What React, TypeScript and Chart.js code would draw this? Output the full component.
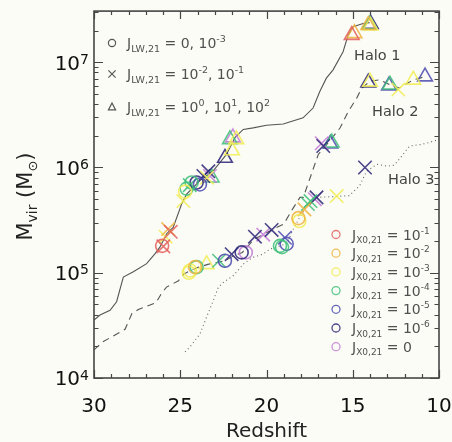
import React, { useEffect, useRef } from 'react';
import { Chart, registerables } from 'chart.js';

Chart.register(...registerables);

// ---------- data ----------
const halo1Z = [30, 29.65, 29.07, 28.69, 28.3, 27.72, 26.95, 26.47, 26.18, 25.79, 25.41, 24.92, 24.63, 23.86, 23.09, 22.32, 21.83, 21.35, 20.77, 20.0, 19.03, 17.88, 17.3, 16.91, 16.53, 16.14, 15.56, 15.27, 14.98, 14.4, 14.02];
const halo1M = [3.56e4, 3.96e4, 4.4e4, 5.3e4, 9.1e4, 1.02e5, 1.22e5, 1.51e5, 1.75e5, 2.34e5, 2.7e5, 4.5e5, 5.6e5, 7.5e5, 9.3e5, 1.33e6, 1.92e6, 2.3e6, 2.38e6, 2.52e6, 2.59e6, 2.96e6, 3.67e6, 5.28e6, 7.06e6, 8.46e6, 1.26e7, 1.81e7, 2.17e7, 2.33e7, 2.38e7];

const halo2Z = [30, 29.5, 28.9, 28.2, 27.8, 27.4, 26.4, 26.1, 25.8, 25.1, 24.8, 24.4, 24.0, 23.4, 22.4, 21.9, 21.4, 20.7, 20.2, 19.7, 19.0, 18.5, 18.06, 17.87, 17.48, 17.0, 16.51, 15.74, 15.26, 14.77, 14.48, 14.0, 13.45, 12.84, 12.3, 11.9, 11.5, 10.8];
const halo2M = [1.85e4, 2.2e4, 2.5e4, 2.9e4, 4.1e4, 4.5e4, 5.2e4, 6.3e4, 7.3e4, 8.4e4, 9.7e4, 1.05e5, 1.12e5, 1.2e5, 1.3e5, 1.45e5, 1.56e5, 2.1e5, 2.3e5, 2.55e5, 2.9e5, 4.0e5, 5.2e5, 5.2e5, 7.9e5, 1.33e6, 1.65e6, 2.37e6, 3.4e6, 4.56e6, 5.66e6, 6.6e6, 6.8e6, 6.1e6, 5.7e6, 6.2e6, 6.8e6, 7.3e6];

const halo3Z = [24.72, 24.43, 23.85, 23.47, 23.08, 22.79, 22.5, 21.92, 21.34, 20.8, 20.2, 19.8, 19.2, 18.8, 18.5, 18.1, 17.7, 17.1, 16.0, 15.2, 14.6, 14.2, 13.6, 13.0, 12.6, 12.3, 11.7, 11.1, 10.7, 10.0];
const halo3M = [1.77e4, 1.98e4, 2.63e4, 3.8e4, 5.46e4, 7.3e4, 8.1e4, 9.4e4, 1.21e5, 1.4e5, 1.5e5, 1.68e5, 1.8e5, 1.9e5, 2.5e5, 3.3e5, 4.2e5, 5.2e5, 5.3e5, 5.4e5, 6.7e5, 9.2e5, 1.07e6, 1.03e6, 1.05e6, 1.2e6, 1.6e6, 1.65e6, 1.7e6, 1.85e6];

// markers: redshift, mass, shape (o: J_LW=0,1e-3; x: 1e-2,1e-1; ^: 1e0..1e2), J_X index
const markerZ = [
  26.05, 25.98, 25.55, 25.7, 25.85, 24.82, 24.72, 24.63, 24.34, 24.45, 24.05, 23.86, 23.66, 23.37, 23.28, 23.45, 23.18, 22.41, 22.0, 22.12, 21.95, 21.75,
  15.06, 14.9, 14.1, 13.95, 14.02, 13.98,
  24.5, 24.43, 24.14, 24.05, 23.47, 22.75, 22.41, 22.02, 21.44, 21.2, 20.67, 20.19, 19.7,
  16.71, 16.8, 16.22, 16.3, 14.1, 14.0, 12.84, 12.9, 12.36, 11.49, 10.81,
  19.22, 19.1, 18.83, 18.93, 18.15, 18.1, 17.8, 17.6, 17.45, 17.1, 17.2, 15.93, 14.29,
];
const markerM = [
  1.8e5, 1.78e5, 2.45e5, 2.6e5, 2.2e5, 4.8e5, 5.9e5, 6.3e5, 7.2e5, 6.8e5, 7.2e5, 6.9e5, 8.3e5, 9.2e5, 8.3e5, 8.0e5, 8.0e5, 1.23e6, 1.45e6, 1.85e6, 1.92e6, 1.85e6,
  1.81e7, 1.88e7, 2.25e7, 2.3e7, 2.28e7, 2.22e7,
  1.0e5, 1.05e5, 1.13e5, 1.13e5, 1.2e5, 1.3e5, 1.3e5, 1.5e5, 1.56e5, 1.56e5, 2.2e5, 2.3e5, 2.55e5,
  1.6e6, 1.7e6, 1.72e6, 1.68e6, 6.4e6, 6.5e6, 6.1e6, 6.0e6, 5.5e6, 6.8e6, 7.3e6,
  1.8e5, 1.75e5, 1.88e5, 2.15e5, 3.3e5, 3.1e5, 4.0e5, 4.5e5, 4.8e5, 5.2e5, 5.0e5, 5.35e5, 1.0e6,
];
const markerShape = [
  'o', 'x', 'x', 'x', 'x', 'x', 'o', 'o', 'o', 'x', 'o', 'o', 'x', 'x', 'x', 'x', '^', '^', '^', '^', '^', '^',
  '^', '^', '^', '^', '^', '^',
  'o', 'o', 'o', 'o', '^', 'x', 'o', 'x', 'o', 'o', 'x', 'x', 'x',
  'x', 'x', '^', '^', '^', '^', '^', '^', 'x', '^', '^',
  'o', 'o', 'o', 'x', 'o', 'o', 'x', 'x', 'x', 'x', 'x', 'x', 'x',
];
const markerJX = [
  0, 0, 0, 1, 2, 2, 2, 3, 3, 3, 5, 4, 5, 5, 6, 2, 3, 5, 2, 3, 6, 2,
  0, 1, 1, 5, 3, 2,
  2, 2, 1, 3, 2, 3, 4, 5, 5, 6, 5, 6, 5,
  5, 6, 3, 4, 5, 2, 3, 4, 2, 2, 4,
  3, 3, 4, 4, 1, 2, 1, 3, 3, 5, 6, 2, 5,
];

const jxExponents = ['-1', '-2', '-3', '-4', '-5', '-6', ''];
const jxColors = ['#e3605c', '#efb340', '#f1ec55', '#3fbf7a', '#4d4cb2', '#2d2778', '#c27cd6'];
const lwLegend = [
  { shape: 'o', text: ' = 0, 10', sup: '-3', tail: '' },
  { shape: 'x', text: ' = 10', sup: '-2', tail: ', 10', sup2: '-1' },
  { shape: '^', text: ' = 10', sup: '0', tail: ', 10', sup2: '1', tail2: ', 10', sup3: '2' },
];
const haloLabels = ['Halo 1', 'Halo 2', 'Halo 3'];
const xTickValues = [30, 25, 20, 15, 10];
const yTickExponents = [4, 5, 6, 7];

// ---------- drawing helpers ----------
const FF = '"DejaVu Sans", sans-serif';
type Seg = { t: string; s: number; dy?: number };

function richWidth(ctx: CanvasRenderingContext2D, segs: Seg[]) {
  let w = 0;
  for (const g of segs) {
    ctx.font = `${g.s}px ${FF}`;
    w += ctx.measureText(g.t).width;
  }
  return w;
}
function drawRich(ctx: CanvasRenderingContext2D, segs: Seg[], x: number, y: number, align: 'left' | 'right' | 'center') {
  const w = richWidth(ctx, segs);
  let cx = align === 'left' ? x : align === 'right' ? x - w : x - w / 2;
  ctx.textAlign = 'left';
  ctx.textBaseline = 'alphabetic';
  for (const g of segs) {
    ctx.font = `${g.s}px ${FF}`;
    ctx.fillText(g.t, cx, y + (g.dy || 0));
    cx += ctx.measureText(g.t).width;
  }
}
function drawSymbol(ctx: CanvasRenderingContext2D, shape: string, x: number, y: number, r: number) {
  ctx.beginPath();
  if (shape === 'o') {
    ctx.arc(x, y, r, 0, Math.PI * 2);
  } else if (shape === 'x') {
    ctx.moveTo(x - r, y - r); ctx.lineTo(x + r, y + r);
    ctx.moveTo(x - r, y + r); ctx.lineTo(x + r, y - r);
  } else {
    ctx.moveTo(x, y - r * 1.1); ctx.lineTo(x + r, y + r * 0.8); ctx.lineTo(x - r, y + r * 0.8); ctx.closePath();
  }
  ctx.stroke();
}

const bgPlugin = {
  id: 'bg',
  beforeDraw(chart: any) {
    const { ctx, width, height } = chart;
    ctx.save();
    ctx.fillStyle = '#fcfcf6';
    ctx.fillRect(0, 0, width, height);
    ctx.restore();
  },
};

const framePlugin = {
  id: 'frame',
  afterDraw(chart: any) {
    const { ctx, chartArea: a } = chart;
    const xs = chart.scales.x;
    const ys = chart.scales.y;
    ctx.save();
    ctx.strokeStyle = '#454545';
    ctx.lineWidth = 1.2;
    ctx.beginPath();
    for (let v = 10; v <= 30; v++) {
      const px = Math.round(xs.getPixelForValue(v)) + 0.5;
      const len = v % 5 === 0 ? 8 : 4;
      ctx.moveTo(px, a.bottom); ctx.lineTo(px, a.bottom - len);
      ctx.moveTo(px, a.top); ctx.lineTo(px, a.top + len);
    }
    for (let e = 4; e <= 7; e++) {
      for (let m = 1; m <= 9; m++) {
        const v = m * Math.pow(10, e);
        if (v > ys.max) break;
        const py = Math.round(ys.getPixelForValue(v)) + 0.5;
        const len = m === 1 ? 9 : 4.5;
        ctx.moveTo(a.left, py); ctx.lineTo(a.left + len, py);
        ctx.moveTo(a.right, py); ctx.lineTo(a.right - len, py);
      }
    }
    ctx.stroke();
    ctx.lineWidth = 1.6;
    ctx.strokeRect(a.left, a.top, a.right - a.left, a.bottom - a.top);

    // x tick labels
    ctx.fillStyle = '#111';
    for (const v of xTickValues) {
      drawRich(ctx, [{ t: String(v), s: 20 }], xs.getPixelForValue(v), 412, 'center');
    }
    // x title
    ctx.fillStyle = '#222';
    drawRich(ctx, [{ t: 'Redshift', s: 20 }], (a.left + a.right) / 2, 437, 'center');
    // y tick labels
    ctx.fillStyle = '#111';
    for (const e of yTickExponents) {
      const py = ys.getPixelForValue(Math.pow(10, e));
      drawRich(ctx, [{ t: '10', s: 20 }, { t: String(e), s: 14, dy: -5.6 }], 89, py + 7.3, 'right');
    }
    // y title
    ctx.save();
    ctx.translate(24, (a.top + a.bottom) / 2 + 2);
    ctx.rotate(-Math.PI / 2);
    ctx.fillStyle = '#222';
    drawRich(ctx, [
      { t: 'M', s: 21 }, { t: 'vir', s: 14, dy: 5 }, { t: ' (M', s: 21 }, { t: '⊙', s: 13, dy: 5 }, { t: ')', s: 21 },
    ], 0, 7.5, 'center');
    ctx.restore();

    // legend 1 (J_LW)
    const lwRows = [43, 74, 107];
    lwLegend.forEach((row: any, i: number) => {
      const cy = lwRows[i];
      ctx.strokeStyle = '#555';
      ctx.lineWidth = 1.2;
      drawSymbol(ctx, row.shape, 112, cy, 3.6);
      ctx.fillStyle = '#505050';
      const segs: Seg[] = [
        { t: 'J', s: 14 }, { t: 'LW,21', s: 9.5, dy: 3.5 }, { t: row.text, s: 14 }, { t: row.sup, s: 9.5, dy: -6 },
      ];
      if (row.tail) { segs.push({ t: row.tail, s: 14 }); segs.push({ t: row.sup2, s: 9.5, dy: -6 }); }
      if (row.tail2) { segs.push({ t: row.tail2, s: 14 }); segs.push({ t: row.sup3, s: 9.5, dy: -6 }); }
      drawRich(ctx, segs, 127, cy + 5, 'left');
    });

    // legend 2 (J_X)
    jxExponents.forEach((ex, i) => {
      const cy = 234.5 + i * 18.7;
      ctx.strokeStyle = jxColors[i];
      ctx.globalAlpha = 0.85;
      ctx.lineWidth = 1.3;
      drawSymbol(ctx, 'o', 336, cy, 4);
      ctx.globalAlpha = 1;
      ctx.fillStyle = '#505050';
      const segs: Seg[] = [{ t: 'J', s: 14 }, { t: 'X0,21', s: 9, dy: 3.5 }];
      if (ex) { segs.push({ t: ' = 10', s: 14 }); segs.push({ t: ex, s: 9, dy: -6 }); }
      else segs.push({ t: ' = 0', s: 14 });
      drawRich(ctx, segs, 352, cy + 5, 'left');
    });

    // halo labels
    ctx.fillStyle = '#444';
    const hl = [[354, 60], [372, 116], [388, 184]];
    haloLabels.forEach((t, i) => drawRich(ctx, [{ t, s: 14.5 }], hl[i][0], hl[i][1], 'left'));
    ctx.restore();
  },
};

function pts(zs: number[], ms: number[]) {
  return zs.map((z, i) => ({ x: z, y: ms[i] }));
}

export default function App() {
  const ref = useRef<HTMLCanvasElement | null>(null);
  useEffect(() => {
    if (!ref.current) return;
    const lineBase = { type: 'line' as const, pointRadius: 0, borderColor: '#555', borderWidth: 1.1, fill: false, tension: 0, order: 10 };
    const datasets: any[] = [
      { ...lineBase, label: 'Halo 1', data: pts(halo1Z, halo1M) },
      { ...lineBase, label: 'Halo 2', data: pts(halo2Z, halo2M), borderDash: [7, 5] },
      { ...lineBase, label: 'Halo 3', data: pts(halo3Z, halo3M), borderDash: [1, 3], borderColor: '#666' },
    ];
    const styleMap: Record<string, { ps: string; r: number }> = {
      o: { ps: 'circle', r: 6.5 },
      x: { ps: 'crossRot', r: 9.5 },
      '^': { ps: 'triangle', r: 8.5 },
    };
    for (const sh of ['o', 'x', '^']) {
      for (let c = 0; c < jxColors.length; c++) {
        const data = markerZ
          .map((z, i) => ({ z, i }))
          .filter(({ i }) => markerShape[i] === sh && markerJX[i] === c)
          .map(({ z, i }) => ({ x: z, y: markerM[i] }));
        if (!data.length) continue;
        datasets.push({
          type: 'scatter',
          label: `${sh}-${c}`,
          data,
          pointStyle: styleMap[sh].ps,
          pointRadius: styleMap[sh].r,
          pointBorderWidth: 1.6,
          pointBorderColor: jxColors[c] + 'dd',
          pointBackgroundColor: 'rgba(0,0,0,0)',
          showLine: false,
          order: 0,
        });
      }
    }
    const chart = new Chart(ref.current, {
      type: 'scatter',
      data: { datasets },
      options: {
        animation: false,
        responsive: false,
        devicePixelRatio: 1,
        layout: { padding: { left: 94, right: 13, top: 9, bottom: 64 } },
        scales: {
          x: { type: 'linear', min: 10, max: 30, reverse: true, display: false },
          y: { type: 'logarithmic', min: 1e4, max: 3.06e7, display: false },
        },
        plugins: { legend: { display: false }, tooltip: { enabled: false } },
      },
      plugins: [bgPlugin, framePlugin],
    } as any);
    return () => chart.destroy();
  }, []);
  return (
    <div style={{ position: 'fixed', left: 0, top: 0, width: 452, height: 442 }}>
      <canvas ref={ref} width={452} height={442} style={{ width: 452, height: 442, display: 'block' }} />
    </div>
  );
}
